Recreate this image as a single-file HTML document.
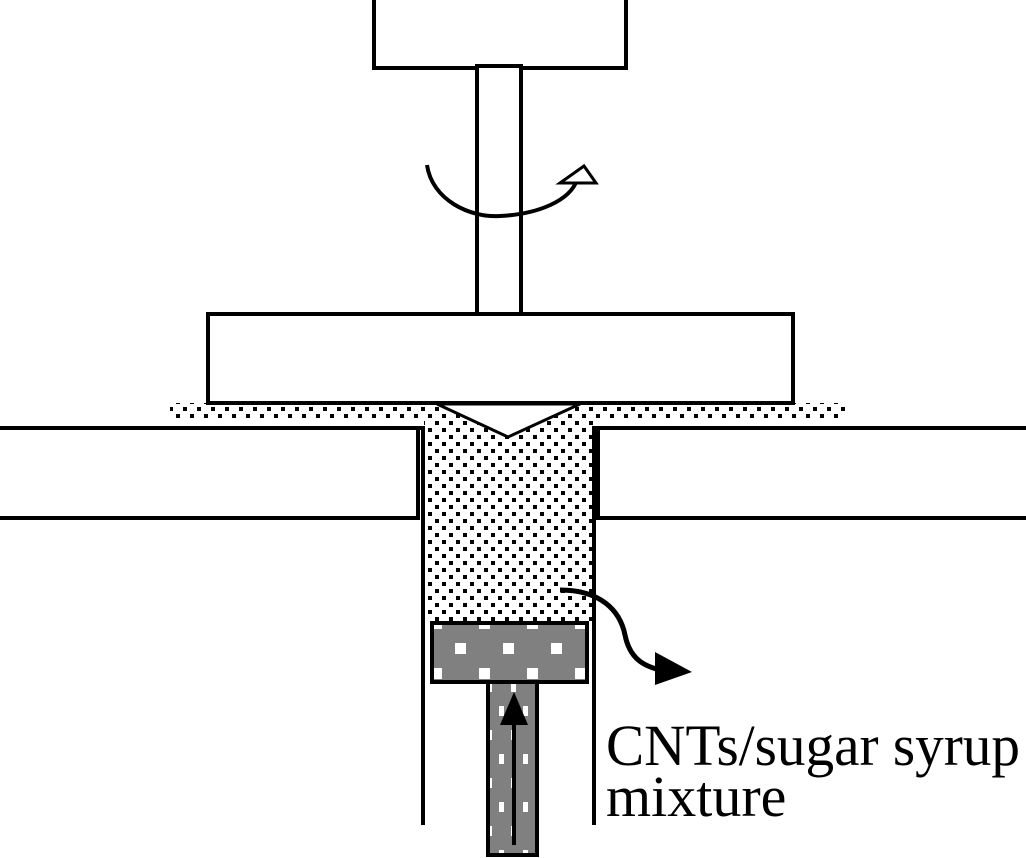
<!DOCTYPE html>
<html><head><style>html,body{margin:0;padding:0;background:#fff;}svg{display:block}</style></head>
<body>
<svg width="1026" height="858" viewBox="0 0 1026 858" xmlns="http://www.w3.org/2000/svg">
<defs>
<pattern id="dots" x="0" y="0" width="14" height="14" patternUnits="userSpaceOnUse">
<rect width="14" height="14" fill="#fff"/>
<rect x="1" y="1" width="4" height="4" fill="#000"/>
<rect x="8" y="8" width="4" height="4" fill="#000"/>
</pattern>
<pattern id="gray" x="431" y="622" width="48" height="50" patternUnits="userSpaceOnUse">
<rect width="48" height="50" fill="#808080"/>
<rect x="0" y="-4" width="11" height="11" fill="#fff"/>
<rect x="24" y="21" width="11" height="11" fill="#fff"/>
<rect x="0" y="46" width="11" height="11" fill="#fff"/>
</pattern>
<pattern id="gray2" x="487" y="682" width="24" height="48" patternUnits="userSpaceOnUse">
<rect width="24" height="48" fill="#808080"/>
<rect x="0" y="0" width="5" height="10" fill="#fff"/>
<rect x="12" y="24" width="5" height="10" fill="#fff"/>
</pattern>
</defs>
<g stroke="#000" stroke-width="4" fill="#fff">
<rect x="374" y="-5" width="252" height="73"/>
<rect x="477" y="66" width="44" height="250"/>
<path d="M427 165 C432 200 470 218 500 216 C540 214 570 200 577 180" fill="none" stroke-width="4"/>
<polygon points="560,183 584,166 596,183" stroke-width="3"/>
<rect x="170" y="403" width="675" height="18" fill="url(#dots)" stroke="none"/>
<rect x="424" y="418" width="170" height="203" fill="url(#dots)" stroke="none"/>
<rect x="208" y="314" width="585" height="89"/>
<polygon points="437,404 508,437 580,404" stroke-width="3"/>
<path d="M0 428 H418 V518 H0" />
<path d="M1026 428 H598 V518 H1026" />
<line x1="423" y1="428" x2="423" y2="825" stroke-width="4"/>
<line x1="594" y1="428" x2="594" y2="825" stroke-width="4"/>
<line x1="416" y1="428" x2="425" y2="428"/>
<line x1="592" y1="428" x2="600" y2="428"/>
<rect x="432" y="623" width="155" height="59" fill="url(#gray)"/>
<rect x="488" y="682" width="49" height="173" fill="url(#gray2)"/>
<line x1="514" y1="845" x2="514" y2="720" stroke-width="4"/>
<polygon points="514,692 500,725 528,725" fill="#000" stroke="none"/>
<path d="M560 590 C600 590 620 610 625 635 C630 660 645 668 670 672" fill="none" stroke-width="5"/>
<polygon points="655,652 692,672 655,685" fill="#000" stroke="none"/>
</g>
<text x="606" y="765" font-family="Liberation Serif, serif" font-size="58" textLength="414" lengthAdjust="spacingAndGlyphs">CNTs/sugar syrup</text>
<text x="606" y="816" font-family="Liberation Serif, serif" font-size="58">mixture</text>
</svg>
</body></html>
